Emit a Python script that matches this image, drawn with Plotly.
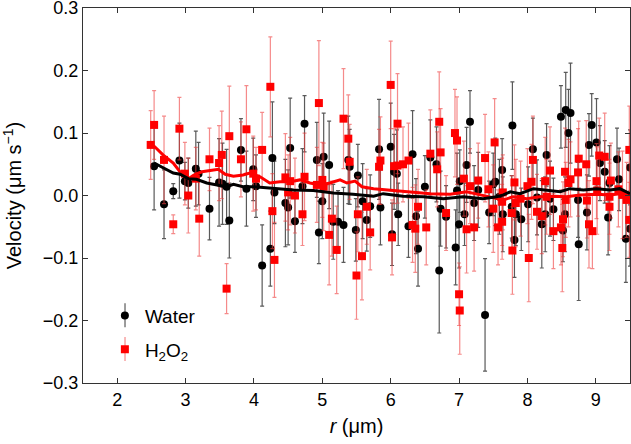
import plotly.graph_objects as go

# ---- Water (black circles) ----
water_r = [2.54, 2.685, 2.82, 2.91, 2.99, 3.04, 3.15, 3.19, 3.35, 3.49, 3.54, 3.60, 3.64, 3.81,
           3.89, 3.99, 4.03, 4.12, 4.24, 4.27, 4.30, 4.46, 4.50, 4.53, 4.60, 4.71, 4.74, 4.92, 4.95, 5.00,
           5.02, 5.10, 5.16, 5.23, 5.31, 5.38, 5.40, 5.49, 5.52, 5.59, 5.65,
           5.70, 5.83, 5.85, 6.00, 6.02, 6.05, 6.09, 6.11, 6.26, 6.32, 6.37, 6.40, 6.50, 6.58, 6.67, 6.71,
           6.73, 6.81, 6.95, 6.97, 7.00, 7.01, 7.08, 7.11, 7.16, 7.22, 7.28, 7.38, 7.44, 7.50, 7.53, 7.59,
           7.63, 7.64,
           7.77, 7.78, 7.81, 7.83, 7.91, 8.01, 8.08, 8.14, 8.21, 8.26, 8.28, 8.33, 8.38, 8.49, 8.52, 8.55,
           8.56, 8.60, 8.63, 8.74, 8.75, 8.87, 8.90, 8.94, 9.01, 9.06, 9.13, 9.18, 9.20, 9.31, 9.34, 9.44,
           9.50, 9.50]
water_v = [0.047, -0.014, 0.007, 0.056, 0.023, 0.020, 0.043, 0.035, -0.021, 0.021, 0.019, 0.014, -0.040, 0.073,
           0.011, 0.042, 0.015, -0.112, -0.085, 0.060, 0.005, -0.012, -0.019, 0.076, -0.041, 0.015, 0.115,
           0.057, -0.059, -0.009, 0.062, 0.049, -0.042, -0.042, -0.047, 0.057, 0.046, -0.055, 0.032, -0.009,
           -0.039,
           -0.017, 0.074, -0.019, 0.078, -0.062, 0.038, 0.035, -0.030, -0.049, 0.066, -0.033, -0.085, 0.014,
           0.061, 0.050, -0.120, -0.021, -0.034, -0.083, 0.008, -0.046, 0.023, -0.030, 0.049, 0.118, -0.012,
           0.009, -0.191, -0.027, 0.018, 0.022, -0.002, 0.041, -0.030,
           -0.018, 0.112, -0.071, -0.030, -0.038, -0.014, 0.074, -0.003, -0.046, -0.030, 0.065, -0.005,
           -0.022, 0.126, -0.056, -0.030, 0.137, 0.100, 0.132, -0.007, -0.078, -0.027, 0.081, 0.113, 0.085,
           0.052, 0.038, -0.035, 0.020, 0.058, 0.026, -0.069, 0.045, -0.053]
water_err = [0.07, 0.055, 0.012, 0.06, 0.03, 0.04, 0.06, 0.05, 0.05, 0.07, 0.065, 0.06, 0.06, 0.05,
             0.06, 0.05, 0.05, 0.065, 0.06, 0.09, 0.05, 0.07, 0.06, 0.08, 0.05, 0.06, 0.045, 0.06, 0.05,
             0.06, 0.07, 0.07, 0.06, 0.05, 0.06, 0.07, 0.06, 0.05, 0.05, 0.06, 0.05,
             0.05, 0.08, 0.06, 0.07, 0.05, 0.06, 0.07, 0.05, 0.05, 0.07, 0.06, 0.06, 0.05, 0.06, 0.06, 0.10,
             0.06, 0.05, 0.06, 0.06, 0.07, 0.05, 0.05, 0.06, 0.05, 0.06, 0.06, 0.09, 0.05, 0.05, 0.07, 0.06,
             0.05, 0.06,
             0.05, 0.07, 0.06, 0.05, 0.05, 0.06, 0.05, 0.06, 0.07, 0.06, 0.05, 0.06, 0.05, 0.05, 0.05, 0.06,
             0.06, 0.07, 0.08, 0.06, 0.09, 0.06, 0.05, 0.05, 0.07, 0.06, 0.05, 0.06, 0.06, 0.05, 0.05, 0.07,
             0.06, 0.06]

# ---- H2O2 (red squares) ----
h2o2_r = [2.49, 2.54, 2.685, 2.82, 2.91, 2.99, 3.04, 3.15, 3.20, 3.35, 3.49, 3.53, 3.60, 3.64, 3.81,
          3.89, 3.99, 4.03, 4.12, 4.24, 4.27, 4.30, 4.46, 4.50, 4.53, 4.60, 4.71, 4.74, 4.92, 4.95, 5.00,
          5.02, 5.10, 5.14, 5.21, 5.31, 5.38, 5.40, 5.50, 5.52, 5.58, 5.65, 5.70,
          5.83, 5.85, 6.00, 6.02, 6.05, 6.10, 6.10, 6.18, 6.26, 6.32, 6.36, 6.40, 6.52, 6.58, 6.68, 6.71,
          6.73, 6.81, 6.94, 6.97, 7.00, 7.01, 7.07, 7.11, 7.16, 7.22, 7.28, 7.38, 7.43, 7.50, 7.52, 7.57,
          7.63, 7.63, 7.64,
          7.77, 7.78, 7.81, 7.83, 7.90, 8.00, 8.02, 8.06, 8.08, 8.14, 8.21, 8.26, 8.28, 8.33, 8.38, 8.49,
          8.51, 8.52, 8.55, 8.56, 8.60, 8.63, 8.74, 8.75, 8.86, 8.87, 8.90, 8.95, 9.01, 9.02, 9.05, 9.13,
          9.20, 9.20, 9.22, 9.33, 9.39, 9.45, 9.49, 9.49]
h2o2_v = [0.081, 0.113, 0.057, -0.046, 0.107, 0.035, 0.000, 0.027, -0.037, 0.058, 0.052, 0.065, -0.149, 0.095, 0.058,
          0.106, 0.035, 0.027, 0.073, 0.174, -0.025, -0.103, 0.029, 0.005, 0.023, 0.000, -0.030, 0.030, 0.017,
          0.148, 0.025, 0.014, -0.063, -0.037, -0.087, 0.123, 0.091, 0.054, -0.128, -0.030, -0.097, -0.018,
          -0.059,
          0.046, 0.056, 0.177, -0.067, 0.047, 0.048, 0.115, 0.050, 0.056, -0.047, -0.053, -0.018, -0.051,
          0.067, 0.042, 0.118, 0.069, -0.028, 0.100, 0.088, -0.158, -0.184, 0.027, -0.054, 0.015, -0.051,
          0.024, 0.060, 0.010, -0.021, 0.085, -0.051, -0.010, -0.042, 0.005,
          -0.028, -0.088, 0.021, -0.012, -0.005, 0.015, -0.100, 0.022, 0.057, -0.026, -0.033, 0.023, -0.002,
          0.040, -0.057, -0.051, -0.084, -0.038, 0.038, -0.007, 0.020, 0.026, 0.037, 0.059, 0.050, -0.008,
          -0.046, -0.057, 0.023, 0.008, 0.064, 0.062, -0.002, -0.018, 0.024, 0.010, 0.001, -0.007, 0.073,
          -0.039]
h2o2_err = [0.055, 0.055, 0.07, 0.015, 0.05, 0.05, 0.06, 0.05, 0.06, 0.05, 0.06, 0.07, 0.04, 0.08, 0.06,
            0.07, 0.06, 0.05, 0.06, 0.08, 0.06, 0.06, 0.07, 0.06, 0.07, 0.06, 0.05, 0.07, 0.06, 0.10, 0.06,
            0.07, 0.08, 0.06, 0.07, 0.08, 0.07, 0.06, 0.07, 0.06, 0.07, 0.06, 0.06,
            0.06, 0.07, 0.07, 0.06, 0.06, 0.06, 0.08, 0.06, 0.06, 0.06, 0.07, 0.06, 0.06, 0.07, 0.06, 0.08,
            0.07, 0.06, 0.07, 0.07, 0.05, 0.07, 0.06, 0.07, 0.06, 0.07, 0.06, 0.07, 0.06, 0.07, 0.07, 0.06,
            0.07, 0.06, 0.06,
            0.06, 0.07, 0.06, 0.07, 0.06, 0.06, 0.07, 0.06, 0.07, 0.06, 0.06, 0.07, 0.06, 0.07, 0.06, 0.06,
            0.07, 0.06, 0.07, 0.06, 0.07, 0.06, 0.07, 0.06, 0.07, 0.06, 0.07, 0.06, 0.06, 0.07, 0.06, 0.07,
            0.06, 0.07, 0.06, 0.06, 0.07, 0.06, 0.07, 0.06]

# ---- smoothed curves ----
water_fit_r = [2.54, 2.67, 2.82, 2.92, 3.04, 3.16, 3.31, 3.50, 3.60, 3.70, 3.84, 3.99, 4.28, 4.58, 4.87,
               5.16, 5.45, 5.75, 5.89, 6.18, 6.48, 6.77, 7.06, 7.35, 7.55, 7.65, 7.75, 7.89, 8.09, 8.28,
               8.48, 8.62, 8.82, 9.01, 9.21, 9.35, 9.50]
water_fit_v = [0.052, 0.044, 0.036, 0.034, 0.027, 0.026, 0.020, 0.016, 0.014, 0.018, 0.014, 0.014, 0.011,
               0.009, 0.008, 0.004, 0.002, -0.001, 0.003, -0.001, -0.002, -0.005, -0.002, -0.005, -0.002,
               0.001, 0.006, 0.003, 0.011, 0.009, 0.006, 0.011, 0.009, 0.011, 0.009, 0.011, 0.003]
h2o2_fit_r = [2.49, 2.55, 2.67, 2.82, 2.94, 3.04, 3.14, 3.24, 3.36, 3.48, 3.58, 3.70, 3.84, 3.94, 4.09,
              4.23, 4.38, 4.53, 4.67, 4.82, 4.97, 5.11, 5.26, 5.36, 5.48, 5.58, 5.75, 5.99, 6.28, 6.58,
              6.87, 7.11, 7.31, 7.45, 7.65, 7.79, 7.99, 8.18, 8.38, 8.57, 8.77, 9.01, 9.21, 9.35, 9.50]
h2o2_fit_v = [0.083, 0.078, 0.065, 0.052, 0.035, 0.027, 0.034, 0.038, 0.040, 0.042, 0.034, 0.031, 0.033,
              0.036, 0.030, 0.020, 0.022, 0.022, 0.025, 0.020, 0.017, 0.020, 0.025, 0.020, 0.023, 0.014,
              0.011, 0.009, 0.006, 0.003, 0.002, 0.006, 0.001, -0.002, -0.007, -0.002, -0.005, -0.002,
              -0.001, -0.002, 0.001, 0.002, 0.001, 0.003, 0.001]

x_ticks = [2, 3, 4, 5, 6, 7, 8, 9]
y_ticks = [-0.3, -0.2, -0.1, 0.0, 0.1, 0.2, 0.3]
y_tick_text = ["−0.3", "−0.2", "−0.1", "0.0", "0.1", "0.2", "0.3"]

FONT = "Liberation Sans, Arial, Helvetica, sans-serif"
WATER_BAR = "#5a5a5a"
H2O2_BAR = "rgba(238,60,60,0.6)"

fig = go.Figure()
fig.add_trace(go.Scatter(
    x=water_r, y=water_v, mode="markers", name="Water", legendgroup="w",
    marker=dict(symbol="circle", size=8, color="black"),
    error_y=dict(type="data", array=water_err, visible=True, color=WATER_BAR, thickness=1.2, width=2),
))
fig.add_trace(go.Scatter(
    x=h2o2_r, y=h2o2_v, mode="markers", name="H<sub>2</sub>O<sub>2</sub>", legendgroup="h",
    marker=dict(symbol="square", size=8, color="#ff0000"),
    error_y=dict(type="data", array=h2o2_err, visible=True, color=H2O2_BAR, thickness=1.2, width=2),
))
fig.add_trace(go.Scatter(
    x=h2o2_fit_r, y=h2o2_fit_v, mode="lines", showlegend=False,
    line=dict(color="#ff0000", width=3),
))
fig.add_trace(go.Scatter(
    x=water_fit_r, y=water_fit_v, mode="lines", showlegend=False,
    line=dict(color="black", width=3),
))

axis_common = dict(
    showgrid=False, zeroline=False, showline=True, linecolor="#333333", linewidth=1,
    mirror="ticks", ticks="inside", ticklen=5, tickcolor="#333333", automargin=False,
    ticklabeloverflow="allow",
    tickfont=dict(family=FONT, size=18, color="black"),
)
fig.update_xaxes(range=[1.5, 9.5], tickvals=x_ticks,
                 title=dict(text="<i>r</i> (μm)", font=dict(family=FONT, size=20, color="black"), standoff=10),
                 **axis_common)
fig.update_yaxes(range=[-0.3, 0.3001], tickvals=y_ticks, ticktext=y_tick_text,
                 title=dict(text="Velocity (μm s<sup>−1</sup>)", font=dict(family=FONT, size=20, color="black"), standoff=22),
                 **axis_common)

# small error-bar strokes behind the legend symbols (legend icons in the reference)
legend_bar_shapes = [
    dict(type="line", xref="paper", yref="paper", x0=0.0768, x1=0.0768, y0=0.149, y1=0.213,
         line=dict(color=WATER_BAR, width=1.2), layer="above"),
    dict(type="line", xref="paper", yref="paper", x0=0.0768, x1=0.0768, y0=0.059, y1=0.123,
         line=dict(color=H2O2_BAR, width=1.2), layer="above"),
]

fig.update_layout(
    width=631, height=444,
    margin=dict(l=83, r=1, t=8, b=61),
    paper_bgcolor="white", plot_bgcolor="white",
    font=dict(family=FONT, color="black"),
    legend=dict(x=0.040, y=0.038, xanchor="left", yanchor="bottom", bgcolor="rgba(0,0,0,0)",
                font=dict(family=FONT, size=19), tracegroupgap=6, itemwidth=30),
    shapes=legend_bar_shapes,
    showlegend=True,
)

fig.write_html(
    "out.html",
    config={"displayModeBar": False},
    post_script="document.body.style.margin='0';document.body.style.overflow='hidden';",
)
